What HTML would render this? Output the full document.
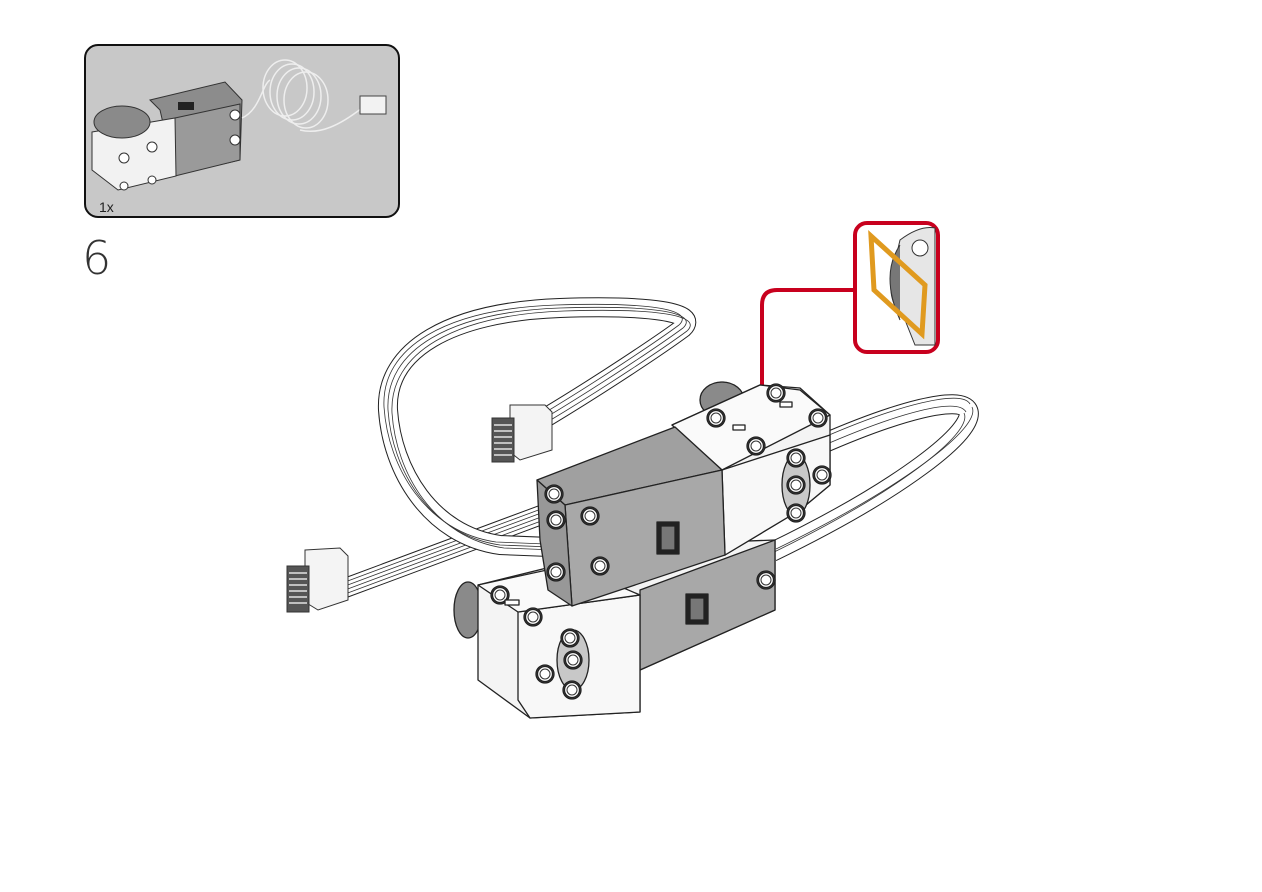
<!DOCTYPE html>
<html><head><meta charset="utf-8"><style>
html,body{margin:0;padding:0;background:#fff;width:1262px;height:892px;overflow:hidden}
svg{display:block}
</style></head><body>
<svg width="1262" height="892" viewBox="0 0 1262 892" xmlns="http://www.w3.org/2000/svg">
<defs>
<g id="hole"><circle r="9" fill="#555" /><circle r="7.5" fill="#fff"/><circle r="5" fill="none" stroke="#333" stroke-width="1"/></g>
</defs>
<rect x="85" y="45" width="314" height="172" rx="13" fill="#c8c8c8" stroke="#111" stroke-width="2"/>
<text x="99" y="212" font-family="Liberation Sans, sans-serif" font-size="14" fill="#222">1x</text>
<polygon points="150,100 225,82 242,100 240,160 175,175 160,110" fill="#8c8c8c" stroke="#333" stroke-width="1"/>
<polygon points="175,118 240,104 240,160 175,176" fill="#9a9a9a" stroke="#333"/>
<polygon points="92,132 175,118 176,176 118,190 92,170" fill="#f2f2f2" stroke="#333"/>
<ellipse cx="122" cy="122" rx="28" ry="16" fill="#8a8a8a" stroke="#333"/>
<rect x="178" y="102" width="16" height="8" fill="#222"/>
<g fill="#fff" stroke="#333"><circle cx="124" cy="158" r="5"/><circle cx="152" cy="147" r="5"/><circle cx="124" cy="186" r="4"/><circle cx="152" cy="180" r="4"/><circle cx="235" cy="115" r="5"/><circle cx="235" cy="140" r="5"/></g>
<g fill="none" stroke="#eee" stroke-width="1.5">
<path d="M242,118 C260,110 262,85 270,80"/>
<ellipse cx="285" cy="88" rx="22" ry="28"/><ellipse cx="292" cy="92" rx="22" ry="28"/><ellipse cx="299" cy="96" rx="22" ry="28"/><ellipse cx="306" cy="100" rx="22" ry="28"/>
<path d="M300,130 C320,135 340,125 362,108"/>
</g>
<rect x="360" y="96" width="26" height="18" fill="#f2f2f2" stroke="#444"/>
<text x="82" y="274" font-family="DejaVu Sans, Liberation Sans, sans-serif" font-size="46" font-weight="200" fill="#333">6</text>

<path d="M762,385 V305 Q762,290 777,290 H856" fill="none" stroke="#c8001e" stroke-width="4"/>
<rect x="855" y="223" width="83" height="129" rx="12" fill="#fff" stroke="#c8001e" stroke-width="4"/>
<path d="M900,240 Q920,225 935,228 L935,345 L915,345 L905,320 Q885,300 893,270Z" fill="#e6e6e6" stroke="#333"/>
<path d="M900,245 Q880,275 900,320" fill="#777" stroke="#333"/>
<circle cx="920" cy="248" r="8" fill="#fff" stroke="#333"/>
<polygon points="871,236 925,285 922,334 874,290" fill="none" stroke="#e09a1f" stroke-width="5"/>

<g fill="none" stroke-linecap="butt">
<path d="M345,588 L560,508" stroke="#222" stroke-width="20"/>
<path d="M345,588 L560,508" stroke="#fff" stroke-width="18"/>
<path d="M820,445 C900,410 960,395 968,410 C978,430 900,490 772,552" stroke="#222" stroke-width="20"/>
<path d="M820,445 C900,410 960,395 968,410 C978,430 900,490 772,552" stroke="#fff" stroke-width="18"/>
<g stroke="#333" stroke-width="0.8">
<path d="M345,582 L560,502"/><path d="M345,586 L560,506"/><path d="M345,590 L560,510"/><path d="M345,594 L560,514"/>
<path d="M820,439 C900,404 962,389 970,404"/><path d="M820,447 C900,412 958,397 966,412"/>
<path d="M968,410 C978,430 900,490 772,552" transform="translate(4,-3)"/><path d="M968,410 C978,430 900,490 772,552" transform="translate(-4,3)"/>
</g>
<path d="M545,418 C600,385 660,345 683,328 C700,312 650,305 560,308 C450,312 385,350 388,410 C392,470 430,535 500,545 L575,548" stroke="#222" stroke-width="20"/>
<path d="M545,418 C600,385 660,345 683,328 C700,312 650,305 560,308 C450,312 385,350 388,410 C392,470 430,535 500,545 L575,548" stroke="#fff" stroke-width="18"/>
<g stroke="#333" stroke-width="0.8">
<path d="M545,418 C600,385 660,345 683,328 C700,312 650,305 560,308 C450,312 385,350 388,410 C392,470 430,535 500,545 L575,548" transform="translate(-4,-3)"/>
<path d="M545,418 C600,385 660,345 683,328 C700,312 650,305 560,308 C450,312 385,350 388,410 C392,470 430,535 500,545 L575,548" transform="translate(4,3)"/>
<path d="M545,418 C600,385 660,345 683,328 C700,312 650,305 560,308 C450,312 385,350 388,410 C392,470 430,535 500,545 L575,548"/>
</g>
</g>
<g stroke="#333" stroke-width="1">
<polygon points="510,405 545,405 552,412 552,450 520,460 510,452" fill="#f4f4f4"/>
<rect x="492" y="418" width="22" height="44" fill="#555"/>
<g stroke="#fff" stroke-width="1.2"><line x1="494" y1="425" x2="512" y2="425"/><line x1="494" y1="431" x2="512" y2="431"/><line x1="494" y1="437" x2="512" y2="437"/><line x1="494" y1="443" x2="512" y2="443"/><line x1="494" y1="449" x2="512" y2="449"/><line x1="494" y1="455" x2="512" y2="455"/></g>
<polygon points="305,550 340,548 348,556 348,600 318,610 305,602" fill="#f4f4f4"/>
<rect x="287" y="566" width="22" height="46" fill="#555"/>
<g stroke="#fff" stroke-width="1.2"><line x1="289" y1="573" x2="307" y2="573"/><line x1="289" y1="579" x2="307" y2="579"/><line x1="289" y1="585" x2="307" y2="585"/><line x1="289" y1="591" x2="307" y2="591"/><line x1="289" y1="597" x2="307" y2="597"/><line x1="289" y1="603" x2="307" y2="603"/></g>
</g>

<g stroke="#222" stroke-width="1.3" stroke-linejoin="round">
<ellipse cx="468" cy="610" rx="14" ry="28" fill="#8a8a8a"/>
<polygon points="478,585 640,545 775,540 775,610 640,670 640,712 530,718 478,680" fill="#f4f4f4"/>
<polygon points="640,590 775,540 775,610 640,670" fill="#a8a8a8"/>
<polygon points="518,612 640,595 640,712 530,718 518,700" fill="#f8f8f8"/>
<polygon points="478,585 570,565 640,595 518,612" fill="#fafafa"/>
<rect x="686" y="594" width="22" height="30" fill="#222"/><rect x="690" y="598" width="14" height="22" fill="#777"/>
<use href="#hole" x="500" y="595"/><use href="#hole" x="533" y="617"/><use href="#hole" x="766" y="580"/>
<ellipse cx="573" cy="660" rx="16" ry="30" fill="#c8c8c8"/>
<use href="#hole" x="570" y="638"/><use href="#hole" x="545" y="674"/><use href="#hole" x="572" y="690"/><use href="#hole" x="573" y="660"/>
<rect x="505" y="600" width="14" height="5" fill="#fff"/>
</g>

<g stroke="#222" stroke-width="1.3" stroke-linejoin="round">
<ellipse cx="722" cy="400" rx="22" ry="18" fill="#8a8a8a"/>
<polygon points="672,425 760,385 800,388 830,415 830,485 800,510 725,555 722,470" fill="#f4f4f4"/>
<polygon points="722,470 830,435 830,485 800,510 725,555" fill="#f8f8f8"/>
<polygon points="672,425 760,385 800,390 830,415 722,470" fill="#fafafa"/>
<polygon points="537,480 675,427 722,470 565,505" fill="#a0a0a0"/>
<polygon points="565,505 722,470 725,555 572,606" fill="#a8a8a8"/>
<polygon points="537,480 565,505 572,606 548,590 540,540" fill="#989898"/>
<rect x="657" y="522" width="22" height="32" fill="#222"/>
<rect x="661" y="526" width="14" height="24" fill="#777"/>
<use href="#hole" x="554" y="494"/><use href="#hole" x="590" y="516"/><use href="#hole" x="600" y="566"/><use href="#hole" x="556" y="572"/><use href="#hole" x="556" y="520"/>
<use href="#hole" x="776" y="393"/><use href="#hole" x="716" y="418"/><use href="#hole" x="756" y="446"/><use href="#hole" x="818" y="418"/>
<ellipse cx="796" cy="485" rx="14" ry="30" fill="#c8c8c8"/>
<use href="#hole" x="796" y="458"/><use href="#hole" x="822" y="475"/><use href="#hole" x="796" y="513"/><use href="#hole" x="796" y="485"/>
<rect x="780" y="402" width="12" height="5" fill="#fff"/><rect x="733" y="425" width="12" height="5" fill="#fff"/>
</g>
</svg>
</body></html>
